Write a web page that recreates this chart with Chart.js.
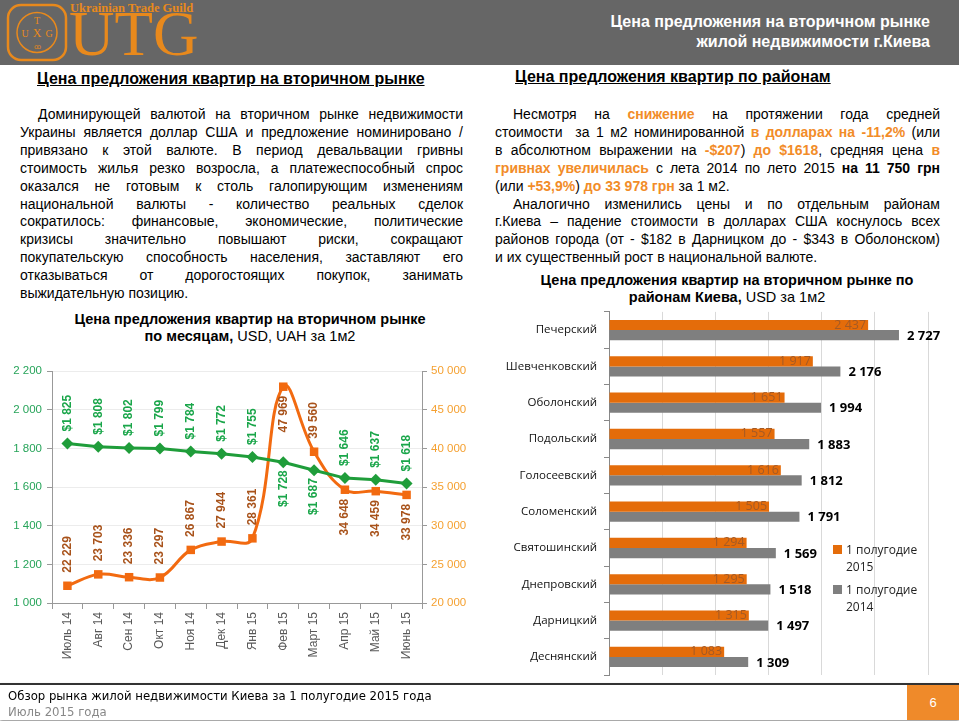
<!DOCTYPE html>
<html>
<head>
<meta charset="utf-8">
<script src="https://cdn.jsdelivr.net/npm/chart.js@4"></script>
<style>
  body { margin: 0; width: 959px; height: 721px; position: relative; background: #fff;
         font-family: "Liberation Sans", Arial, sans-serif; color: #000; overflow: hidden; }
  .header { position: absolute; left: 0; top: 0; width: 959px; height: 65px; background: #666; }
  .logo-small { position: absolute; left: 70px; top: 1px; font: bold 12.5px "Liberation Serif", "DejaVu Serif", serif; color: #e8891c; }
  .logo-big { position: absolute; left: 69px; top: 3px; font: 63px/63px "Liberation Serif", "DejaVu Serif", serif; color: #e8891c; }
  .emblem { position: absolute; left: 6px; top: 3px; }
  .head-title { position: absolute; right: 29px; top: 12px; text-align: right; color: #fff; font-weight: bold; font-size: 16px; line-height: 20px; }
  .sec-head { position: absolute; font-weight: bold; font-size: 16px; text-decoration: underline; }
  .para { position: absolute; font-size: 14px; line-height: 17.9px; }
  .para div { text-align: justify; text-align-last: justify; white-space: nowrap; }
  .para div.last { text-align-last: left; }
  .para div.ind { padding-left: 18px; }
  .o { color: #f28c28; font-weight: bold; }
  .b { font-weight: bold; }
  .ch-title { position: absolute; text-align: center; font-size: 14.5px; line-height: 17px; }
  canvas { position: absolute; }
  .legend { position: absolute; left: 833px; top: 541px; font: 12px "Open Sans", sans-serif; color: #222; line-height: 17px; }
  .legend .item { position: relative; padding-left: 13px; margin-bottom: 6px; }
  .legend .sw { position: absolute; left: 0; top: 4px; width: 9px; height: 9px; }
  .footer { position: absolute; left: 0; top: 683px; width: 959px; height: 35px; background: #fff;
            border-top: 2px solid #333; box-shadow: 0 2px 3px #999; }
  .foot1 { position: absolute; left: 8px; top: 3px; font: 13px "Liberation Sans Narrow", "DejaVu Sans Condensed", sans-serif; }
  .foot2 { position: absolute; left: 8px; top: 19px; font: 13px "Liberation Sans Narrow", "DejaVu Sans Condensed", sans-serif; color: #888; }
  .page { position: absolute; right: 0; top: 0; width: 52px; height: 35px; background: #ef8a2a; color: #fff;
          font-size: 13px; text-align: center; line-height: 35px; }
</style>
</head>
<body>
<div class="header">
  <svg class="emblem" width="62" height="59" viewBox="0 0 62 59">
    <rect x="2" y="2" width="58" height="55" rx="13" fill="none" stroke="#e8891c" stroke-width="2.5"/>
    <circle cx="31" cy="29.5" r="20" fill="none" stroke="#e8891c" stroke-width="1.5"/>
    <text x="31" y="21" font-size="10" fill="#e8891c" text-anchor="middle" font-family="Liberation Serif">T</text>
    <text x="19" y="34" font-size="10" fill="#e8891c" text-anchor="middle" font-family="Liberation Serif">U</text>
    <text x="31" y="34" font-size="12" fill="#e8891c" text-anchor="middle" font-family="Liberation Serif">X</text>
    <text x="43" y="34" font-size="10" fill="#e8891c" text-anchor="middle" font-family="Liberation Serif">G</text>
    <text x="31" y="46" font-size="7" fill="#e8891c" text-anchor="middle" font-family="Liberation Serif">ꝏ</text>
  </svg>
  <div class="logo-small">Ukrainian Trade Guild</div>
  <div class="logo-big">UTG</div>
  <div class="head-title">Цена предложения на вторичном рынке<br>жилой недвижимости г.Киева</div>
</div>

<div class="sec-head" style="left:37px; top:70px;">Цена предложения квартир на вторичном рынке</div>
<div class="para" style="left:20px; top:106px; width:443px;">
  <div class="ind">Доминирующей валютой на вторичном рынке недвижимости</div>
  <div>Украины является доллар США и предложение номинировано /</div>
  <div>привязано к этой валюте. В период девальвации гривны</div>
  <div>стоимость жилья резко возросла, а платежеспособный спрос</div>
  <div>оказался не готовым к столь галопирующим изменениям</div>
  <div>национальной валюты - количество реальных сделок</div>
  <div>сократилось: финансовые, экономические, политические</div>
  <div>кризисы значительно повышают риски, сокращают</div>
  <div>покупательскую способность населения, заставляют его</div>
  <div>отказываться от дорогостоящих покупок, занимать</div>
  <div class="last">выжидательную позицию.</div>
</div>

<div class="sec-head" style="left:515px; top:68px;">Цена предложения квартир по районам</div>
<div class="para" style="left:495px; top:106px; width:445px;">
  <div class="ind">Несмотря на <span class="o">снижение</span> на протяжении года средней</div>
  <div>стоимости &nbsp;за 1 м2 номинированной <span class="o">в долларах на -11,2%</span> (или</div>
  <div>в абсолютном выражении на <span class="o">-$207</span>) <span class="o">до $1618</span>, средняя цена <span class="o">в</span></div>
  <div><span class="o">гривнах увеличилась</span> с лета 2014 по лето 2015 <span class="b">на 11 750 грн</span></div>
  <div class="last">(или <span class="o">+53,9%</span>) <span class="o">до 33 978 грн</span> за 1 м2.</div>
  <div class="ind">Аналогично изменились цены и по отдельным районам</div>
  <div>г.Киева – падение стоимости в долларах США коснулось всех</div>
  <div>районов города (от - $182 в Дарницком до - $343 в Оболонском)</div>
  <div class="last">и их существенный рост в национальной валюте.</div>
</div>

<div class="ch-title" style="left:50px; top:311px; width:400px;"><b>Цена предложения квартир на вторичном рынке</b><br><b>по месяцам,</b> USD, UAH за 1м2</div>
<div class="ch-title" style="left:527px; top:272px; width:400px;"><b>Цена предложения квартир на вторичном рынке по</b><br><b>районам Киева,</b> USD за 1м2</div>

<canvas id="monthChart" width="480" height="325" style="left:0; top:355px;"></canvas>
<canvas id="districtChart" width="469" height="391" style="left:490px; top:298px;"></canvas>
<div class="legend" id="legend"></div>

<div class="footer">
  <div class="foot1">Обзор рынка жилой недвижимости Киева за 1 полугодие 2015 года</div>
  <div class="foot2">Июль 2015 года</div>
  <div class="page">6</div>
</div>

<script>
const months = ["Июль 14", "Авг 14", "Сен 14", "Окт 14", "Ноя 14", "Дек 14", "Янв 15", "Фев 15", "Март 15", "Апр 15", "Май 15", "Июнь 15"];
const priceUsd = [1825, 1808, 1802, 1799, 1784, 1772, 1755, 1728, 1687, 1646, 1637, 1618];
const priceUah = [22229, 23703, 23336, 23297, 26867, 27944, 28361, 47969, 39560, 34648, 34459, 33978];

const districts = ["Печерский", "Шевченковский", "Оболонский", "Подольский", "Голосеевский", "Соломенский", "Святошинский", "Днепровский", "Дарницкий", "Деснянский"];
const half2015 = [2437, 1917, 1651, 1557, 1616, 1505, 1294, 1295, 1315, 1083];
const half2014 = [2727, 2176, 1994, 1883, 1812, 1791, 1569, 1518, 1497, 1309];

const GREEN = "#1f9d3a";
const ORANGE = "#f26a10";
const BAR_ORANGE = "#e46c0a";
const BAR_GRAY = "#7f7f7f";

// 22229 -> "22 229"
const spaced = (n) => String(n).replace(/\B(?=(\d{3})+(?!\d))/g, " ");

// vertical value labels next to each point; "below" lists the indexes that go under the point
const rotatedLabels = {
    id: "rotatedLabels",
    afterDatasetsDraw(chart, args, opts) {
        const ctx = chart.ctx;
        opts.sets.forEach((set, i) => {
            const meta = chart.getDatasetMeta(i);
            const values = chart.data.datasets[i].data;
            meta.data.forEach((pt, j) => {
                const below = set.below.includes(j);
                ctx.save();
                ctx.translate(pt.x, pt.y);
                ctx.rotate(-Math.PI / 2);
                ctx.font = "bold 12px 'Liberation Sans', Arial, sans-serif";
                ctx.fillStyle = set.color;
                ctx.textBaseline = "middle";
                if (below) {
                    ctx.textAlign = "right";
                    ctx.fillText(set.format(values[j]), -set.gapBelow, 0);
                } else {
                    ctx.textAlign = "left";
                    ctx.fillText(set.format(values[j]), set.gapAbove, 0);
                }
                ctx.restore();
            });
        });
    },
};

// labels at bar ends for the district chart
const barLabels = {
    id: "barLabels",
    afterDatasetsDraw(chart) {
        const ctx = chart.ctx;
        ctx.save();
        ctx.textBaseline = "middle";
        chart.getDatasetMeta(0).data.forEach((bar, j) => {
            ctx.font = "12.5px 'Open Sans', sans-serif";
            ctx.fillStyle = "#a45a25";
            ctx.textAlign = "right";
            ctx.fillText(spaced(half2015[j]), bar.x - 2, bar.y);
        });
        chart.getDatasetMeta(1).data.forEach((bar, j) => {
            ctx.font = "bold 13px 'Open Sans', sans-serif";
            ctx.fillStyle = "#000";
            ctx.textAlign = "left";
            ctx.fillText(spaced(half2014[j]), bar.x + 8, bar.y + 1);
        });
        ctx.restore();
    },
};

function renderMonthChart() {
    const ctx = document.getElementById("monthChart").getContext("2d");

    new Chart(ctx, {
        type: "line",
        data: {
            labels: months,
            datasets: [{
                label: "USD",
                data: priceUsd,
                yAxisID: "y",
                borderColor: GREEN,
                backgroundColor: GREEN,
                borderWidth: 3,
                tension: 0,
                pointStyle: "rectRot",
                pointRadius: 6,
                pointBorderWidth: 0,
            }, {
                label: "UAH",
                data: priceUah,
                yAxisID: "y1",
                borderColor: ORANGE,
                backgroundColor: ORANGE,
                borderWidth: 3,
                tension: 0.4,
                pointStyle: "rect",
                pointRadius: 6,
                pointBorderWidth: 0,
            }],
        },
        options: {
            responsive: false,
            animation: false,
            layout: { padding: { top: 16 } },
            plugins: {
                legend: { display: false },
                tooltip: { enabled: false },
                rotatedLabels: {
                    sets: [
                        { color: "#1aa64a", below: [7, 8], gapAbove: 12, gapBelow: 8, format: (v) => "$" + spaced(v) },
                        { color: "#a8521a", below: [7, 9, 10, 11], gapAbove: 13, gapBelow: 9, format: spaced },
                    ],
                },
            },
            scales: {
                x: {
                    offset: true,
                    grid: { offset: true, drawOnChartArea: false, tickLength: 6, color: "#999" },
                    border: { color: "#999" },
                    ticks: {
                        minRotation: 90, maxRotation: 90, padding: 3, color: "#595959",
                        font: { size: 12, family: "'Liberation Sans', Arial" },
                    },
                    afterFit: (s) => { s.height = 77; },
                },
                y: {
                    position: "left",
                    min: 1000, max: 2200,
                    ticks: {
                        stepSize: 200, padding: 5, color: "#27a45a",
                        font: { size: 11.5, family: "'Liberation Sans', Arial" },
                        callback: (v) => spaced(v),
                    },
                    grid: { color: "#ececec", tickColor: "#999", tickLength: 5 },
                    border: { color: "#999" },
                    afterFit: (s) => { s.width = 52; },
                },
                y1: {
                    position: "right",
                    min: 20000, max: 50000,
                    ticks: {
                        stepSize: 5000, padding: 4, color: "#f5a030",
                        font: { size: 11.5, family: "'Liberation Sans', Arial" },
                        callback: (v) => spaced(v),
                    },
                    grid: { drawOnChartArea: false, color: "#999", tickLength: 5 },
                    border: { color: "#999" },
                    afterFit: (s) => { s.width = 58; },
                },
            },
        },
        plugins: [rotatedLabels],
    });
}

function renderDistrictChart() {
    const ctx = document.getElementById("districtChart").getContext("2d");

    const chart = new Chart(ctx, {
        type: "bar",
        data: {
            labels: districts,
            datasets: [{
                label: "1 полугодие 2015",
                data: half2015,
                backgroundColor: BAR_ORANGE,
                categoryPercentage: 0.56,
                barPercentage: 1,
            }, {
                label: "1 полугодие 2014",
                data: half2014,
                backgroundColor: BAR_GRAY,
                categoryPercentage: 0.56,
                barPercentage: 1,
            }],
        },
        options: {
            indexAxis: "y",
            responsive: false,
            animation: false,
            layout: { padding: { top: 5, right: 31 } },
            plugins: { legend: { display: false }, tooltip: { enabled: false } },
            scales: {
                x: {
                    min: 0, max: 3000,
                    ticks: { display: false, stepSize: 500 },
                    grid: { color: "#d9d9d9", drawTicks: false },
                    border: { display: false },
                    afterFit: (s) => { s.height = 7; },
                },
                y: {
                    grid: { offset: true, drawOnChartArea: false, tickLength: 5, color: "#888" },
                    border: { color: "#888" },
                    ticks: { padding: 7, color: "#111", font: { size: 11.5, family: "'Open Sans', sans-serif" } },
                    afterFit: (s) => { s.width = 119; },
                },
            },
        },
        plugins: [barLabels],
    });

    // legend sits over the right side of the plot, like the original
    document.getElementById("legend").innerHTML = chart.data.datasets.map((ds) => {
        const words = ds.label.split(" ");
        const year = words.pop();
        return `<div class="item"><span class="sw" style="background:${ds.backgroundColor}"></span>${words.join(" ")}<br>${year}</div>`;
    }).join("");
}

renderMonthChart();
renderDistrictChart();
</script>
</body>
</html>
